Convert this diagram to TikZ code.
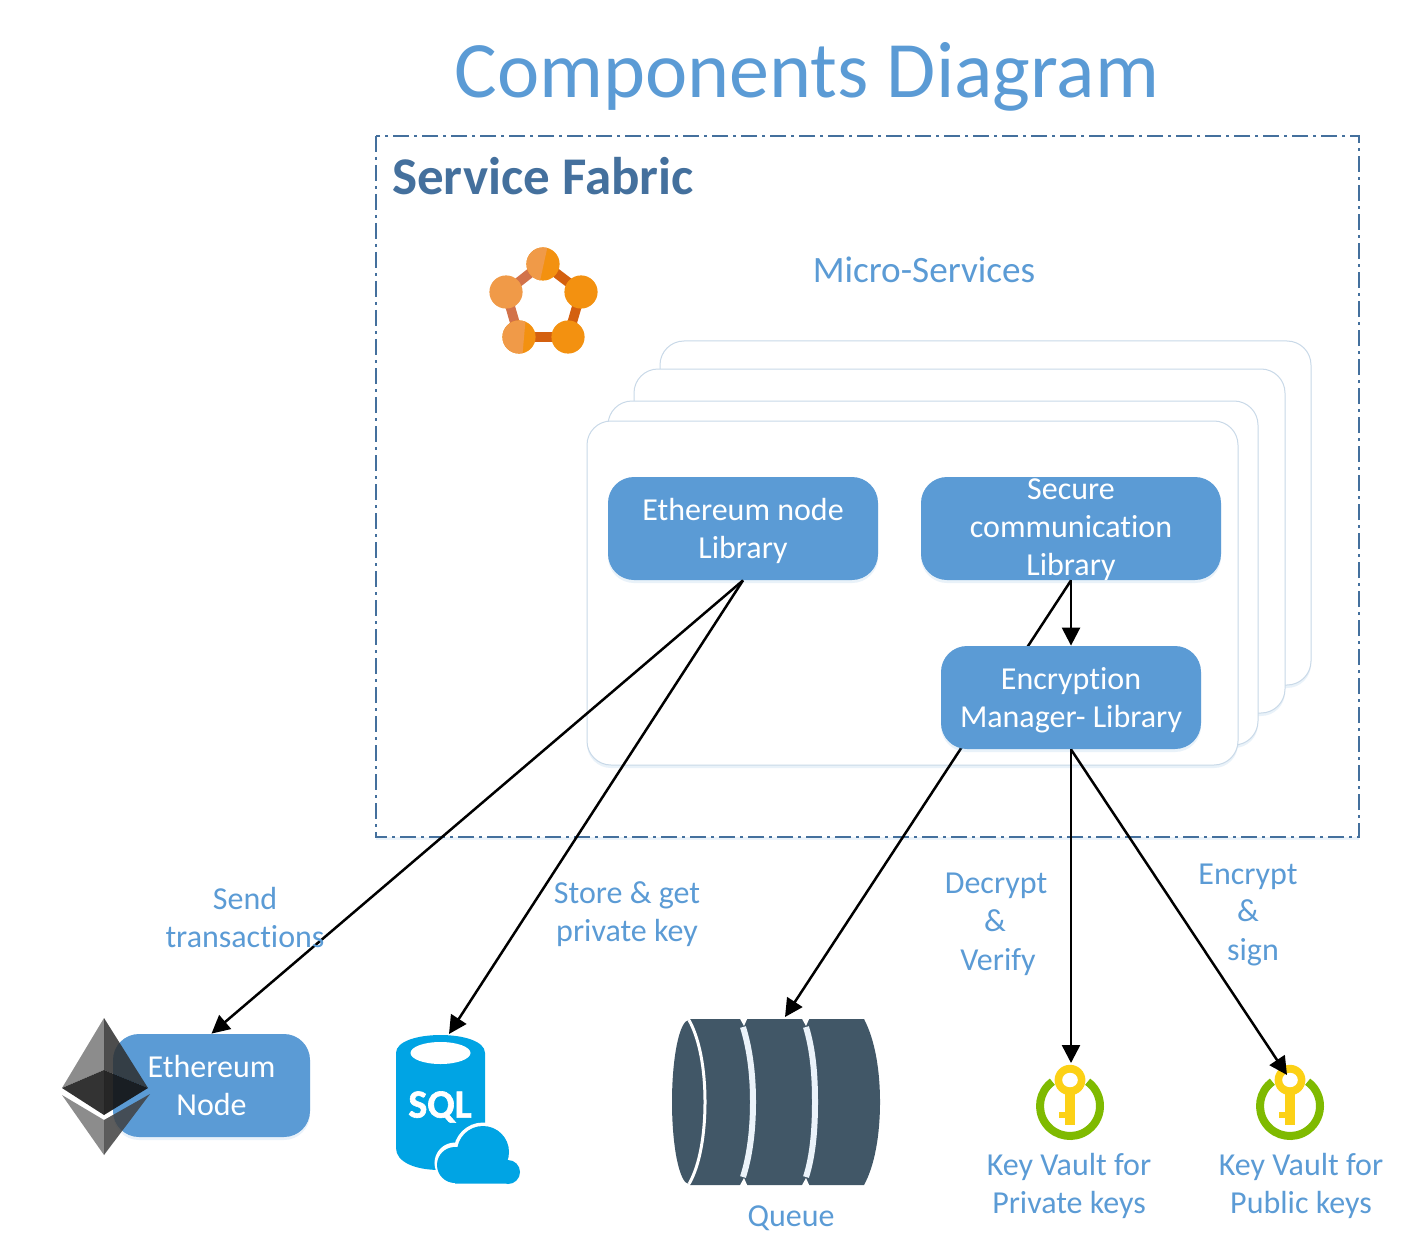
\documentclass[tikz,border=0pt]{standalone}
\usepackage{fontspec}
\setmainfont[Ligatures=NoCommon]{Carlito}
\usetikzlibrary{arrows.meta,shadows}
\definecolor{azure}{HTML}{5B9BD5}
\definecolor{fabric}{HTML}{44709D}
\definecolor{cardline}{HTML}{C9D9E8}
\definecolor{qdark}{HTML}{415767}
\definecolor{sqlblue}{HTML}{00A4E4}
\definecolor{kvgreen}{HTML}{7FBA00}
\definecolor{kvyellow}{HTML}{FCD116}
\definecolor{orA}{HTML}{F39110}
\definecolor{orB}{HTML}{F09A48}
\definecolor{linkA}{HTML}{D4600F}
\definecolor{linkB}{HTML}{D2724A}
\newcommand{\libdown}{\rule{0pt}{13.5pt}}
\tikzset{
  softshadow/.style={drop shadow={shadow xshift=0pt,shadow yshift=-1.5pt,opacity=.13,fill=azure}},
  card/.style={draw=cardline,line width=.5pt,fill=white,rounded corners=12pt,softshadow},
  libbox/.style={fill=azure,text=white,rounded corners=13pt,inner sep=0pt,align=center,
    font=\fontsize{16}{19}\selectfont,softshadow},
  libtext/.style={text=white,inner sep=0pt,align=center,font=\fontsize{16}{19}\selectfont},
  lbl/.style={text=azure,inner sep=0pt,align=center,font=\fontsize{16}{19}\selectfont},
  flow/.style={draw=black,line width=1.25pt,-{Triangle[length=9pt,width=9pt]}},
  keyicon/.pic={
    \draw[kvgreen,line width=4pt] ([shift={(126:15pt)}]0,0) arc[start angle=126,end angle=414,radius=15pt];
    \fill[kvyellow] (0,-26) ellipse[x radius=7.7pt,y radius=7.6pt];
    \fill[kvyellow] (-5,-14) rectangle (5,19);
    \fill[kvyellow] (-11.5,6) rectangle (-5,12);
    \fill[white] (0,-26) ellipse[x radius=3.9pt,y radius=3.6pt];
  }
}
\begin{document}
\begin{tikzpicture}[x=0.5pt,y=-0.5pt]
\useasboundingbox (0,0) rectangle (1401,1251);
% title
\node[text=azure,inner sep=0pt,font=\fontsize{40}{48}\selectfont] (title) at (807,77) {Components Diagram};
% service fabric frame
\draw[fabric,line width=.8pt,fill=white,dash pattern=on 8pt off 2.5pt on 1.5pt off 2.5pt,
  drop shadow={shadow xshift=0pt,shadow yshift=-1.5pt,opacity=.12,fill=azure}]
  (376,136) rectangle (1359,837);
\node[text=fabric,inner sep=0pt,font=\fontsize{26.5}{32}\selectfont\bfseries] (sf) at (543,176) {Service Fabric};
\node[text=azure,inner sep=0pt,font=\fontsize{18.6}{22}\selectfont] (micro) at (924,270) {Micro-Services};
% pentagon icon
\draw[linkB,line width=4.8pt] (543,263) -- (506,292) -- (519,337);
\draw[linkA,line width=4.8pt] (519,337) -- (568,337) -- (581,292) -- (543,263);
\fill[orA] (581,292) circle[radius=8.3pt] (568,337) circle[radius=8.3pt];
\fill[orB] (506,292) circle[radius=8.3pt];
\fill[orA] (543,264) circle[radius=8.3pt] (519,337) circle[radius=8.3pt];
\begin{scope}
  \clip (520,240) -- (549,240) -- (538,290) -- (490,300) -- (490,240) -- cycle;
  \fill[orB] (543,264) circle[radius=8.3pt];
\end{scope}
\begin{scope}
  \clip (495,315) -- (526,315) -- (522,360) -- (495,360) -- cycle;
  \fill[orB] (519,337) circle[radius=8.3pt];
\end{scope}
% stacked cards
\node[card,minimum width=325.5pt,minimum height=172pt,inner sep=0pt] (card1) at (985.5,513) {};
\node[card,minimum width=325.5pt,minimum height=172pt,inner sep=0pt] (card2) at (959.5,541) {};
\node[card,minimum width=325pt,minimum height=172pt,inner sep=0pt] (card3) at (933,573) {};
\node[card,minimum width=325.5pt,minimum height=172pt,inner sep=0pt] (card4) at (912.5,593) {};
% libraries
\node[libbox,minimum width=135pt,minimum height=51.5pt] (ethlib) at (743,528.5) {\libdown Ethereum node\\Library};
\node[libbox,minimum width=150pt,minimum height=51.5pt] (seclib) at (1071,528.5) {};
\node[libtext] (sectext) at (1071,530) {Secure\\communication\\Library};
% queue icon
\coordinate (qtop) at (785,1017);
\fill[qdark] (690,1019) -- (864,1019) .. controls (875,1040) and (880,1070) .. (880,1102)
  .. controls (880,1134) and (875,1165) .. (864,1185) -- (690,1185) -- cycle;
\fill[qdark] (689,1102) ellipse[x radius=8.5pt,y radius=41pt];
\draw[white,line width=1.5pt] (689,1020) .. controls (700,1040) and (705,1070) .. (705,1102)
  .. controls (705,1134) and (700,1165) .. (689,1184);
\draw[white!88!azure,line width=3pt] (743,1027) .. controls (750,1050) and (753,1075) .. (753,1102)
  .. controls (753,1129) and (750,1155) .. (743,1177);
\draw[white!88!azure,line width=3pt] (806,1027) .. controls (813,1050) and (815,1075) .. (815,1102)
  .. controls (815,1129) and (813,1155) .. (806,1177);
\fill[white] (739,1017) -- (748,1017) -- (744,1026) -- cycle (801,1017) -- (810,1017) -- (806,1026) -- cycle;
\fill[white] (739,1187) -- (748,1187) -- (744,1178) -- cycle (801,1187) -- (810,1187) -- (806,1178) -- cycle;
% connector behind the encryption box
\draw[flow] (seclib.south) -- (qtop);
\node[libbox,minimum width=130pt,minimum height=51.5pt] (enc) at (1071,697.5) {\libdown Encryption\\Manager- Library};
\draw[flow] (seclib.south) -- (enc.north);
% ethereum node
\node[libbox,minimum width=98.5pt,minimum height=51.5pt] (ethnode) at (211.5,1085.5) {Ethereum\\Node};
% ethereum logo
\fill[black!45] (104,1018) -- (62,1088) -- (104,1070) -- cycle;
\fill[black!82,opacity=.85] (104,1018) -- (148,1088) -- (104,1070) -- cycle;
\fill[black!80] (62,1088) -- (104,1070) -- (104,1115) -- cycle;
\fill[black!92,opacity=.92] (148,1088) -- (104,1070) -- (104,1115) -- cycle;
\fill[black!45] (62,1095) -- (104,1120) -- (104,1155) -- cycle;
\fill[black!75,opacity=.85] (150,1094) -- (104,1120) -- (104,1155) -- cycle;
% sql icon
\coordinate (sqltop) at (449,1034);
\fill[sqlblue] (396,1053) .. controls (396,1029) and (485,1029) .. (485,1053) -- (485,1150)
  .. controls (485,1162) and (465,1170) .. (440,1170) .. controls (415,1170) and (396,1162) .. (396,1148) -- cycle;
\fill[white] (440.5,1053) ellipse[x radius=15pt,y radius=5.5pt];
\node[text=white,inner sep=0pt,font={\fontsize{20}{24}\selectfont\bfseries\addfontfeatures{FakeBold=1.5}}] (sqltext) at (440,1107) {SQL};
\draw[white,line width=2.5pt,fill=white] (483,1152) circle[radius=13.5pt] (455,1163) circle[radius=9pt]
  (508,1172) circle[radius=6pt] (455,1165) rectangle (508,1184);
\fill[sqlblue] (483,1152) circle[radius=13pt] (455,1165) circle[radius=9pt]
  (508,1172) circle[radius=6pt] (455,1165) rectangle (508,1183.5);
% key vaults
\pic at (1070,1106) {keyicon};
\pic at (1290,1106) {keyicon};
\coordinate (kva) at (1071,1063);
\coordinate (kvb) at (1287,1075);
% connectors
\draw[flow] (ethlib.south) -- (ethnode.north);
\draw[flow] (ethlib.south) -- (sqltop);
\draw[flow] (enc.south) -- (kva);
\draw[flow] (enc.south) -- (kvb);
% labels
\node[lbl] (lsend) at (245,917) {Send\\transactions};
\node[lbl] (lstore) at (627,914) {Store \& get\\private key};
\node[lbl] (ld1) at (996,886) {Decrypt};
\node[lbl] (ld2) at (995,921) {\&};
\node[lbl] (ld3) at (998,962) {Verify};
\node[lbl] (le1) at (1248,877) {Encrypt};
\node[lbl] (le2) at (1248,911) {\&};
\node[lbl] (le3) at (1253,952) {sign};
\node[lbl] (lkv1) at (1069,1186) {Key Vault for\\Private keys};
\node[lbl] (lkv2) at (1301,1186) {Key Vault for\\Public keys};
\node[lbl] (lq) at (791,1218) {Queue};
\end{tikzpicture}
\end{document}
